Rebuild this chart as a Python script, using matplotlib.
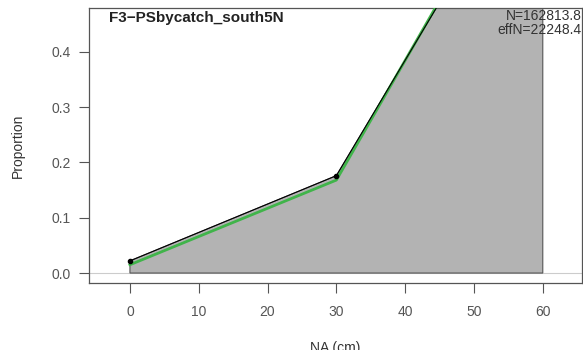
import matplotlib
matplotlib.use("Agg")
import matplotlib.pyplot as plt

# length bins (cm) and proportions
lengths = [0, 30, 60]
observed = [0.022, 0.176, 0.802]
expected = [0.015, 0.168, 0.817]
x_ticks = [0, 10, 20, 30, 40, 50, 60]
y_ticks = [0.0, 0.1, 0.2, 0.3, 0.4]
y_tick_labels = ["0.0", "0.1", "0.2", "0.3", "0.4"]

plt.rcParams["font.family"] = ["Liberation Sans", "DejaVu Sans"]

fig = plt.figure(figsize=(5.83, 3.5), dpi=100)
ax = fig.add_axes([89 / 583, (350 - 283) / 350, (582 - 89) / 583, (283 - 8) / 350])

# observed distribution as a filled polygon
poly_x = [lengths[0]] + lengths + [lengths[-1]]
poly_y = [0] + observed + [0]
ax.fill(poly_x, poly_y, facecolor="#b3b3b3", edgecolor="#555555", linewidth=0.8, zorder=2)
ax.axhline(0, color="#cccccc", linewidth=0.8, zorder=1)

ax.plot(lengths, expected, color="#40b44a", linewidth=2.0, zorder=3)
ax.plot(lengths, observed, color="black", linewidth=0.8, marker="o", markersize=3, zorder=4)

ax.set_xlim(-5.95, 65.7)
ax.set_ylim(-0.018, 0.479)
ax.set_xticks(x_ticks)
ax.set_yticks(y_ticks)
ax.set_yticklabels(y_tick_labels)
ax.tick_params(direction="out", length=7, width=0.8, colors="#555555", labelsize=10, pad=6)
ax.tick_params(axis="x", pad=9)
for s in ax.spines.values():
    s.set_color("#555555")
    s.set_linewidth(0.9)

ax.set_ylabel("Proportion", fontsize=10, color="#333333", labelpad=19)
ax.set_xlabel("NA (cm)", fontsize=10, color="#333333", labelpad=16)

ax.text(0.04, 0.99, "F3\u2212PSbycatch_south5N", transform=ax.transAxes,
        fontsize=11, fontweight="bold", ha="left", va="top", color="#222222")
ax.text(1.0, 0.995, "N=162813.8", transform=ax.transAxes,
        fontsize=10, ha="right", va="top", color="#333333")
ax.text(1.0, 0.947, "effN=22248.4", transform=ax.transAxes,
        fontsize=10, ha="right", va="top", color="#333333")

fig.savefig("out.png", dpi=100)
